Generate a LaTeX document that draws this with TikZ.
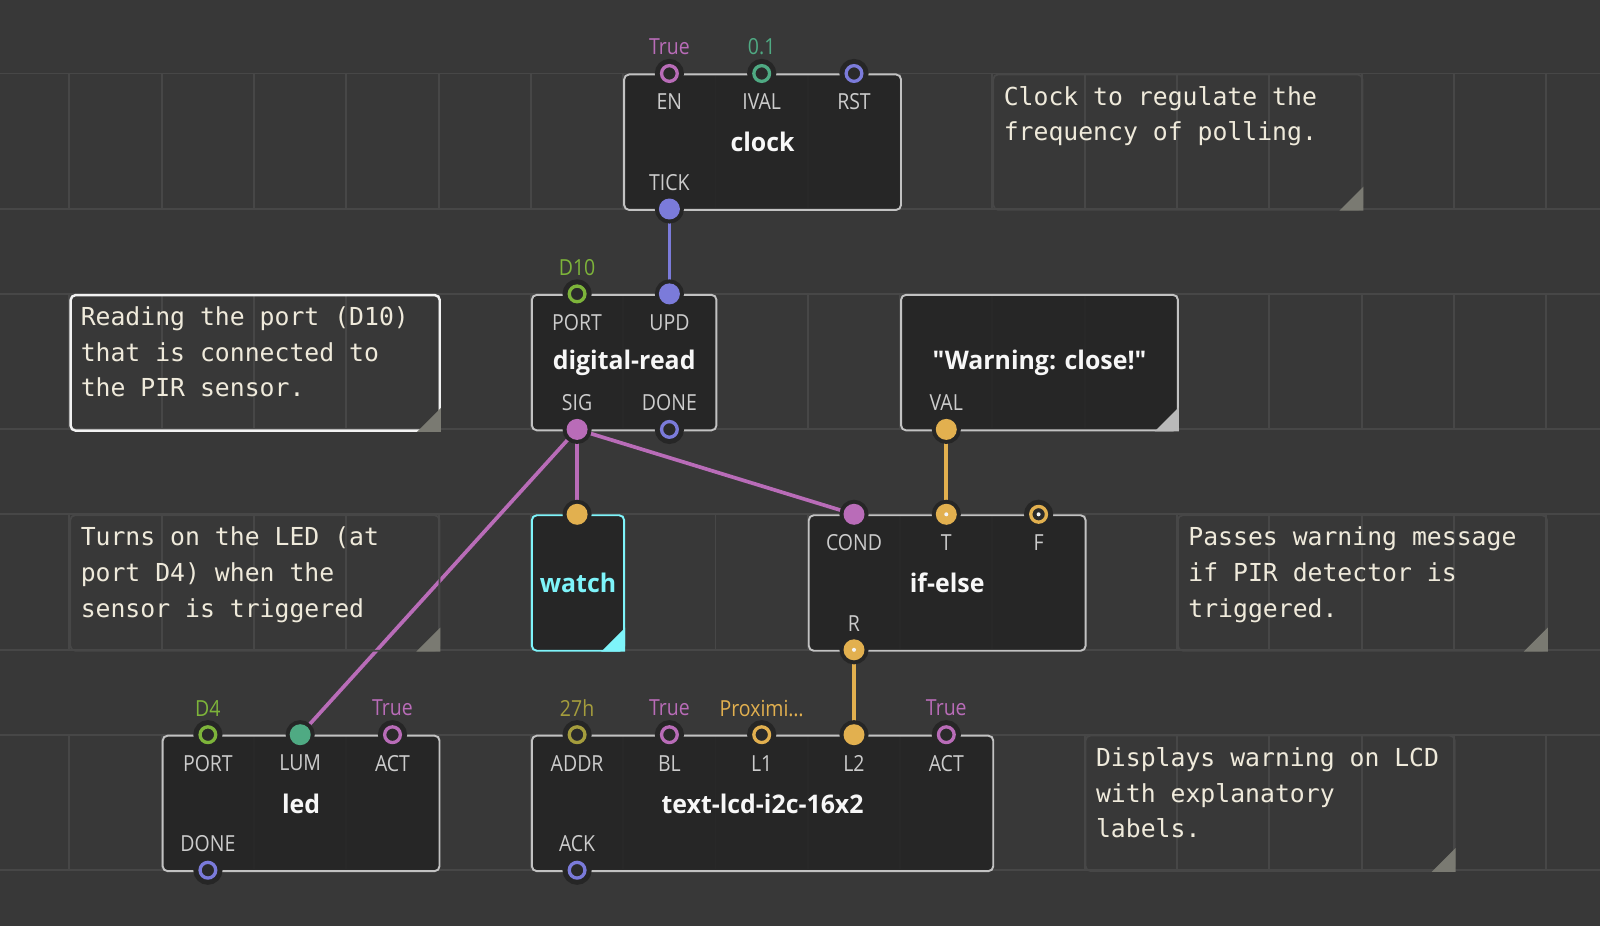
\documentclass[tikz,border=0pt]{standalone}
\usepackage{fontspec}
\usepackage{tikz}
\usetikzlibrary{calc}
\newfontfamily\pinfont[FakeStretch=0.88]{Open Sans}
\newfontfamily\titlefont[FakeStretch=0.97]{Open Sans}
\newfontfamily\notefont{DejaVu Sans Mono}
\definecolor{canvas}{HTML}{383838}
\definecolor{gridLine}{HTML}{474747}
\definecolor{nodeFill}{HTML}{252525}
\definecolor{nodeEdge}{HTML}{C2C2C2}
\definecolor{halo}{HTML}{262626}
\definecolor{pinCore}{HTML}{2A2A2A}
\definecolor{labelInk}{HTML}{CCCCCC}
\definecolor{titleInk}{HTML}{F7F7F7}
\definecolor{noteInk}{HTML}{EFEADB}
\definecolor{noteCorner}{HTML}{7A7A72}
\definecolor{selEdge}{HTML}{F2F2F2}
\definecolor{constCorner}{HTML}{B9B9B9}
\definecolor{dotInk}{HTML}{F4F4F4}
\definecolor{pinPurple}{HTML}{B96CB8}
\definecolor{pinGreen}{HTML}{4FAA83}
\definecolor{pinPulse}{HTML}{7B7BDA}
\definecolor{pinString}{HTML}{E2B04F}
\definecolor{pinPort}{HTML}{7DB43A}
\definecolor{pinByte}{HTML}{A59D3D}
\definecolor{watchCyan}{HTML}{7EF4FA}
\pgfdeclarelayer{grid}
\pgfdeclarelayer{wires}
\pgfsetlayers{grid,wires,main}

\begin{document}
\begin{tikzpicture}[
    x=0.02cm, y=-0.02cm,
    gridRule/.style={draw=gridLine, line width=1.1pt},
    patchNode/.style={draw=nodeEdge, fill=nodeFill, fill opacity=0.9, text opacity=1, rounded corners=2.8pt, line width=1.1pt, anchor=north west, minimum height=2.71cm, inner sep=0pt, font=\titlefont\bfseries\fontsize{14.6}{14.6}\selectfont, text=titleInk},
    watchNode/.style={patchNode, draw=watchCyan, text=watchCyan, minimum width=1.846cm},
    noteBox/.style={draw=gridLine, line width=1pt, rounded corners=2.8pt, anchor=north west, minimum width=7.384cm, minimum height=2.71cm, inner sep=0pt},
    noteSel/.style={noteBox, draw=selEdge, line width=1.4pt},
    noteText/.style={anchor=north west, inner sep=0pt, align=left, font=\notefont\fontsize{14.1}{20.3}\selectfont, text=noteInk},
    pinHollow/.style={circle, inner sep=0pt, minimum size=8.94pt, draw=#1, line width=1.88pt, fill=pinCore, preaction={draw=halo, line width=7.57pt}},
    pinSolid/.style={circle, inner sep=0pt, minimum size=11.95pt, fill=#1, preaction={draw=halo, line width=4.55pt}},
    pinDot/.style={path picture={\fill[dotInk] (path picture bounding box.center) circle (1.15pt);}},
    pinLabel/.style={font=\pinfont\fontsize{12.6}{12.6}\selectfont, text=labelInk, inner sep=0pt},
    pinValue/.style={pinLabel, text=#1},
    link/.style={line width=2.1pt, draw=#1}
]
    \useasboundingbox (0,0) rectangle (1600,926);
    \begin{pgfonlayer}{grid}
        \fill[canvas] (-10,-10) rectangle (1610,936);
        \foreach \rowY in {73.5,293.9,514.3,734.7} {
            \draw[gridRule] (-10,\rowY) -- (1610,\rowY);
            \draw[gridRule] (-10,\rowY+135.5) -- (1610,\rowY+135.5);
            \foreach \k in {0,...,16}
                \draw[gridRule] (69.4+92.3*\k,\rowY) -- (69.4+92.3*\k,\rowY+135.5);
        }
    \end{pgfonlayer}

    \node[noteBox] (noteClock) at (992.4,73.5) {};
    \node[noteSel] (noteRead) at (69.4,293.9) {};
    \node[noteBox] (noteLed) at (69.4,514.3) {};
    \node[noteBox] (noteIf) at (1177.0,514.3) {};
    \node[noteBox] (noteLcd) at (1084.7,734.7) {};
    \foreach \n in {noteClock,noteRead,noteLed,noteIf,noteLcd}
        \fill[noteCorner] (\n.south east) -- ++(-24,0) -- ++(24,-24) -- cycle;

    \node[noteText] (noteClockText) at ($(noteClock.north west)+(11,12.5)$) {Clock to regulate the\\frequency of polling.};
    \node[noteText] (noteReadText) at ($(noteRead.north west)+(11,12.5)$) {Reading the port (D10)\\that is connected to\\the PIR sensor.};
    \node[noteText] (noteLedText) at ($(noteLed.north west)+(11,12.5)$) {Turns on the LED (at\\port D4) when the\\sensor is triggered};
    \node[noteText] (noteIfText) at ($(noteIf.north west)+(11,12.5)$) {Passes warning message\\if PIR detector is\\triggered.};
    \node[noteText] (noteLcdText) at ($(noteLcd.north west)+(11,12.5)$) {Displays warning on LCD\\with explanatory\\labels.};

    \node[patchNode, minimum width=5.538cm] (clock) at (623.2,73.5) {clock};
    \node[patchNode, minimum width=3.692cm] (digitalRead) at (530.9,293.9) {digital-read};
    \node[patchNode, minimum width=5.538cm] (warnText) at (900.1,293.9) {\char34Warning: close!\char34};
    \node[watchNode] (watch) at (530.9,514.3) {watch};
    \node[patchNode, minimum width=5.538cm] (ifElse) at (807.8,514.3) {if-else};
    \node[patchNode, minimum width=5.538cm] (led) at (161.7,734.7) {led};
    \node[patchNode, minimum width=9.23cm] (lcd) at (530.9,734.7) {text-lcd-i2c-16x2};
    \fill[constCorner] (warnText.south east) -- ++(-24,0) -- ++(24,-24) -- cycle;
    \fill[watchCyan] (watch.south east) -- ++(-24,0) -- ++(24,-24) -- cycle;

    \node[pinHollow=pinPurple] (clockEN) at (669.4,73.5) {};
    \node[pinHollow=pinGreen] (clockIVAL) at (761.7,73.5) {};
    \node[pinHollow=pinPulse] (clockRST) at (854.0,73.5) {};
    \node[pinSolid=pinPulse] (clockTICK) at (669.4,209.0) {};
    \node[pinValue=pinPurple] (clockENval) at (669.4,47) {True};
    \node[pinValue=pinGreen] (clockIVALval) at (761.7,47) {0.1};
    \node[pinLabel] (clockENlbl) at (669.4,102) {EN};
    \node[pinLabel] (clockIVALlbl) at (761.7,102) {IVAL};
    \node[pinLabel] (clockRSTlbl) at (854.0,102) {RST};
    \node[pinLabel] (clockTICKlbl) at (669.4,182.5) {TICK};

    \node[pinHollow=pinPort] (readPORT) at (577.1,293.9) {};
    \node[pinSolid=pinPulse] (readUPD) at (669.4,293.9) {};
    \node[pinSolid=pinPurple] (readSIG) at (577.1,429.4) {};
    \node[pinHollow=pinPulse] (readDONE) at (669.4,429.4) {};
    \node[pinValue=pinPort] (readPORTval) at (577.1,267.4) {D10};
    \node[pinLabel] (readPORTlbl) at (577.1,322.4) {PORT};
    \node[pinLabel] (readUPDlbl) at (669.4,322.4) {UPD};
    \node[pinLabel] (readSIGlbl) at (577.1,402.9) {SIG};
    \node[pinLabel] (readDONElbl) at (669.4,402.9) {DONE};

    \node[pinSolid=pinString] (warnVAL) at (946.3,429.4) {};
    \node[pinLabel] (warnVALlbl) at (946.3,402.9) {VAL};

    \node[pinSolid=pinString] (watchIN) at (577.1,514.3) {};

    \node[pinSolid=pinPurple] (ifCOND) at (854.0,514.3) {};
    \node[pinSolid=pinString, pinDot] (ifT) at (946.3,514.3) {};
    \node[pinHollow=pinString, pinDot] (ifF) at (1038.6,514.3) {};
    \node[pinSolid=pinString, pinDot] (ifR) at (854.0,649.8) {};
    \node[pinLabel] (ifCONDlbl) at (854.0,542.8) {COND};
    \node[pinLabel] (ifTlbl) at (946.3,542.8) {T};
    \node[pinLabel] (ifFlbl) at (1038.6,542.8) {F};
    \node[pinLabel] (ifRlbl) at (854.0,623.3) {R};

    \node[pinHollow=pinPort] (ledPORT) at (207.9,734.7) {};
    \node[pinSolid=pinGreen] (ledLUM) at (300.2,734.7) {};
    \node[pinHollow=pinPurple] (ledACT) at (392.5,734.7) {};
    \node[pinHollow=pinPulse] (ledDONE) at (207.9,870.2) {};
    \node[pinValue=pinPort] (ledPORTval) at (207.9,708.2) {D4};
    \node[pinValue=pinPurple] (ledACTval) at (392.5,708.2) {True};
    \node[pinLabel] (ledPORTlbl) at (207.9,763.2) {PORT};
    \node[pinLabel] (ledLUMlbl) at (300.2,763.2) {LUM};
    \node[pinLabel] (ledACTlbl) at (392.5,763.2) {ACT};
    \node[pinLabel] (ledDONElbl) at (207.9,843.7) {DONE};

    \node[pinHollow=pinByte] (lcdADDR) at (577.1,734.7) {};
    \node[pinHollow=pinPurple] (lcdBL) at (669.4,734.7) {};
    \node[pinHollow=pinString] (lcdLA) at (761.7,734.7) {};
    \node[pinSolid=pinString] (lcdLB) at (854.0,734.7) {};
    \node[pinHollow=pinPurple] (lcdACT) at (946.3,734.7) {};
    \node[pinHollow=pinPulse] (lcdACK) at (577.1,870.2) {};
    \node[pinValue=pinByte] (lcdADDRval) at (577.1,708.2) {27h};
    \node[pinValue=pinPurple] (lcdBLval) at (669.4,708.2) {True};
    \node[pinValue=pinString] (lcdLAval) at (761.7,708.2) {Proximi…};
    \node[pinValue=pinPurple] (lcdACTval) at (946.3,708.2) {True};
    \node[pinLabel] (lcdADDRlbl) at (577.1,763.2) {ADDR};
    \node[pinLabel] (lcdBLlbl) at (669.4,763.2) {BL};
    \node[pinLabel] (lcdLAlbl) at (761.7,763.2) {L1};
    \node[pinLabel] (lcdLBlbl) at (854.0,763.2) {L2};
    \node[pinLabel] (lcdACTlbl) at (946.3,763.2) {ACT};
    \node[pinLabel] (lcdACKlbl) at (577.1,843.7) {ACK};

    \begin{pgfonlayer}{wires}
        \draw[link=pinPulse] (clockTICK.center) -- (readUPD.center);
        \draw[link=pinPurple] (readSIG.center) -- (watchIN.center);
        \draw[link=pinPurple] (readSIG.center) -- (ifCOND.center);
        \draw[link=pinPurple] (readSIG.center) -- (ledLUM.center);
        \draw[link=pinString] (warnVAL.center) -- (ifT.center);
        \draw[link=pinString] (ifR.center) -- (lcdLB.center);
    \end{pgfonlayer}
\end{tikzpicture}
\end{document}
